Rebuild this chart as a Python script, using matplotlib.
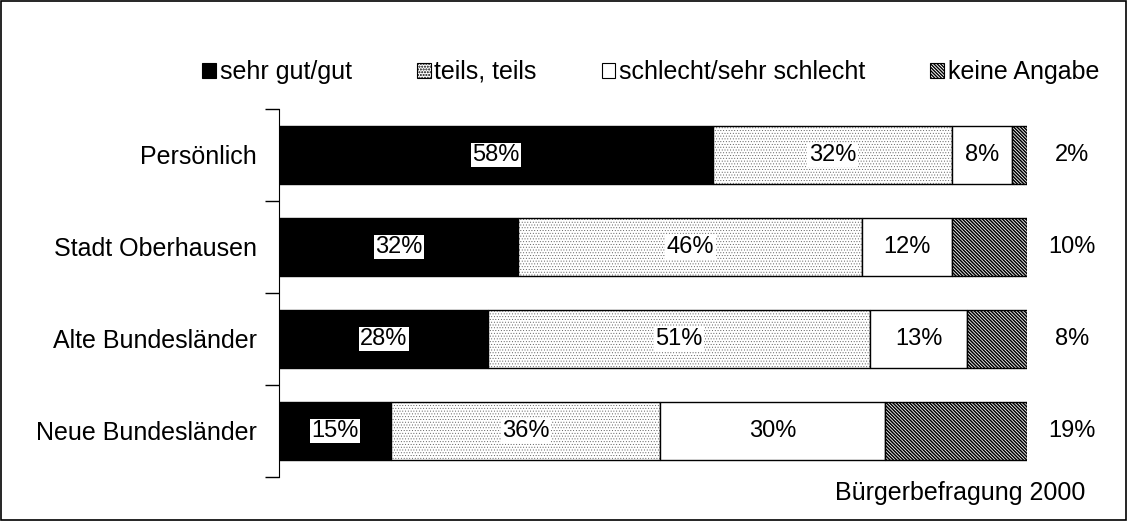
import matplotlib.pyplot as plt
from matplotlib.patches import Patch, Rectangle

plt.rcParams["font.family"] = ["Liberation Sans", "DejaVu Sans"]

FONTSIZE = 18
VALUE_FONTSIZE = 17

categories = ["Persönlich", "Stadt Oberhausen", "Alte Bundesländer", "Neue Bundesländer"]
series_names = ["sehr gut/gut", "teils, teils", "schlecht/sehr schlecht", "keine Angabe"]
sehr_gut = [58, 32, 28, 15]
teils = [32, 46, 51, 36]
schlecht = [8, 12, 13, 30]
keine = [2, 10, 8, 19]

colors = ["black", "white", "white", "white"]
hatches = [None, "......", None, "\\" * 10]
hatch_colors = ["black", "0.35", "black", "black"]
hatch_widths = [0.5, 0.35, 0.5, 1.1]


def main() -> None:
    fig = plt.figure(figsize=(11.28, 5.21), dpi=100)
    ax = fig.add_axes([0.2473, 0.0845, 0.6632, 0.7063])

    ypos = [3, 2, 1, 0]
    left = [0] * len(categories)
    series = [sehr_gut, teils, schlecht, keine]
    handles = []
    for s_idx, values in enumerate(series):
        with plt.rc_context({"hatch.linewidth": hatch_widths[s_idx]}):
            # fill + hatch, then black outline on top
            ax.barh(ypos, values, left=left, height=0.64, color=colors[s_idx],
                    edgecolor=hatch_colors[s_idx], linewidth=0, hatch=hatches[s_idx])
            handles.append(Patch(facecolor=colors[s_idx], edgecolor=hatch_colors[s_idx],
                                 hatch=hatches[s_idx], linewidth=0))
        ax.barh(ypos, values, left=left, height=0.64, fill=False,
                edgecolor="black", linewidth=1)
        for i, v in enumerate(values):
            if s_idx == 3:
                x = 106
            else:
                x = left[i] + v / 2
            ax.text(
                x,
                ypos[i],
                f"{v}%",
                ha="center",
                va="center",
                fontsize=VALUE_FONTSIZE,
                bbox=dict(facecolor="white", edgecolor="none", pad=1.0)
                if s_idx < 3
                else None,
                clip_on=False,
            )
        left = [l + v for l, v in zip(left, values)]

    ax.set_xlim(0, 100)
    ax.set_ylim(-0.5, 3.5)
    ax.set_xticks([])
    ax.set_yticks([-0.5, 0.5, 1.5, 2.5, 3.5])
    ax.set_yticklabels([])
    ax.tick_params(axis="y", which="major", direction="out", length=10, width=1)
    ax.set_yticks(ypos, minor=True)
    ax.set_yticklabels(categories, minor=True, fontsize=FONTSIZE)
    ax.tick_params(axis="y", which="minor", length=0, pad=16)
    for side in ["top", "right", "bottom"]:
        ax.spines[side].set_visible(False)

    leg = fig.legend(
        handles,
        series_names,
        loc="center",
        bbox_to_anchor=(0.577, 0.862),
        ncol=4,
        frameon=False,
        fontsize=FONTSIZE,
        handlelength=0.55,
        handleheight=0.55,
        handletextpad=0.15,
        columnspacing=2.6,
    )
    for h in leg.legend_handles:
        h.set_edgecolor("black")
        h.set_linewidth(0.8)

    fig.text(0.962, 1 - 493 / 521, "Bürgerbefragung 2000", ha="right", va="center", fontsize=FONTSIZE)

    fig.patches.append(
        Rectangle((0.001, 0.002), 0.997, 0.996, transform=fig.transFigure,
                  fill=False, edgecolor="black", linewidth=1.2)
    )

    fig.savefig("out.png", dpi=100)


if __name__ == "__main__":
    main()
